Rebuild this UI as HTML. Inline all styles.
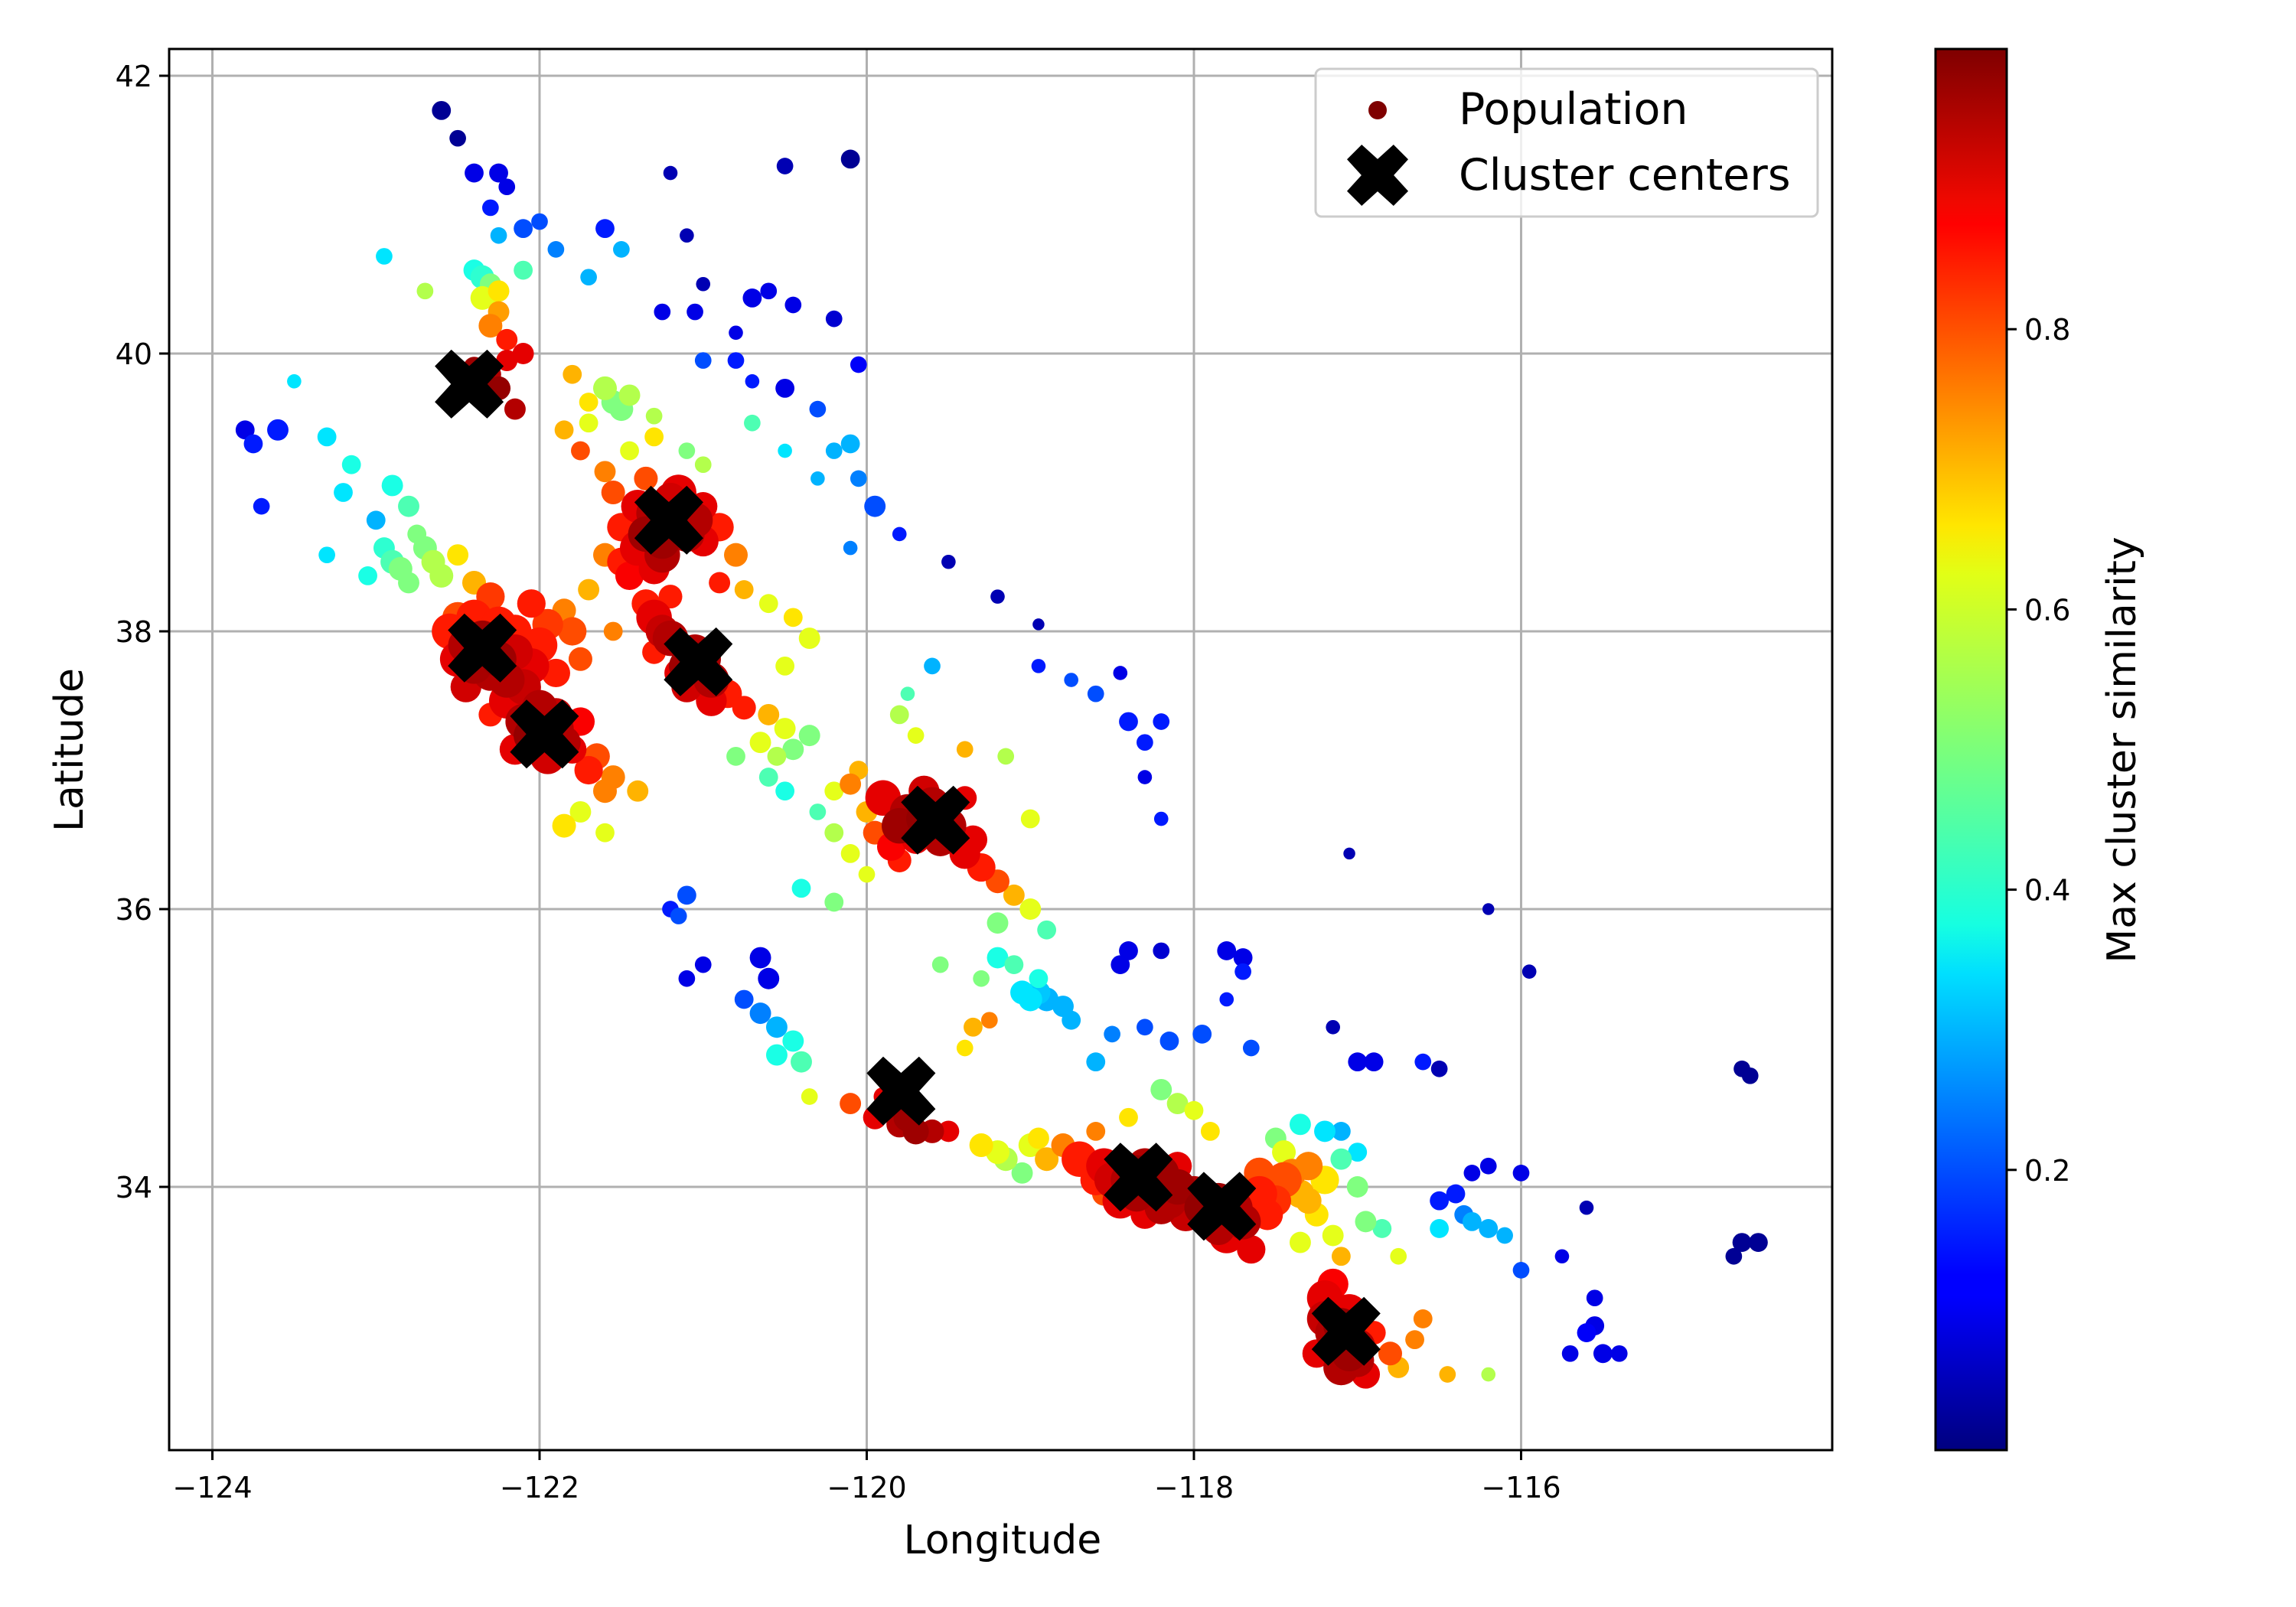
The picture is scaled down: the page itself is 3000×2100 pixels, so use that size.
<!DOCTYPE html>
<html><head><meta charset="utf-8">
<style>
html,body{margin:0;padding:0;background:#fff;}
svg{display:block;font-family:"DejaVu Sans","Liberation Sans",sans-serif;}
</style></head>
<body>
<svg id="chart" width="3000" height="2100" viewBox="0 0 3000 2100" xmlns="http://www.w3.org/2000/svg">
<defs>
<linearGradient id="jet" x1="0" y1="1" x2="0" y2="0">
<stop offset="0" stop-color="#00007f"/><stop offset="0.11" stop-color="#0000ff"/>
<stop offset="0.125" stop-color="#0000ff"/><stop offset="0.34" stop-color="#00dfff"/>
<stop offset="0.375" stop-color="#16ffe1"/><stop offset="0.5" stop-color="#7bff7b"/>
<stop offset="0.625" stop-color="#e1ff16"/><stop offset="0.66" stop-color="#ffe600"/>
<stop offset="0.875" stop-color="#ff0000"/><stop offset="0.89" stop-color="#f10800"/>
<stop offset="1" stop-color="#7f0000"/>
</linearGradient>
<clipPath id="plotclip"><rect x="221" y="64" width="2173" height="1831"/></clipPath>
</defs>
<g id="grid"></g>
<g id="points" clip-path="url(#plotclip)"></g>
<g id="centers"></g>
<rect x="221" y="64" width="2173" height="1831" fill="none" stroke="#000" stroke-width="3"/>
<g id="ticks"></g>
<text x="1310" y="2030" font-size="52" text-anchor="middle">Longitude</text>
<text transform="translate(108,980) rotate(-90)" font-size="52" text-anchor="middle">Latitude</text>
<g>
<rect x="1719" y="90" width="656" height="193" rx="8" fill="#fff" fill-opacity="0.8" stroke="#ccc" stroke-width="3"/>
<circle cx="1800" cy="144" r="12" fill="#7f0000"/>
<text x="1906" y="162" font-size="57">Population</text>
<path id="legendX" fill="#000"/>
<text x="1906" y="248" font-size="57">Cluster centers</text>
</g>
<rect x="2529" y="64" width="93" height="1831" fill="url(#jet)" stroke="#000" stroke-width="3"/>
<g id="cbticks"></g>
<text transform="translate(2790,980) rotate(-90)" font-size="52" text-anchor="middle">Max cluster similarity</text>
</svg>
<script>
const xTicks=[-124,-122,-120,-118,-116];
const yTicks=[34,36,38,40,42];
const cbTicks=[0.2,0.4,0.6,0.8];
const centerLon=[-122.43,-122.35,-121.97,-121.21,-121.03,-119.58,-119.79,-118.34,-117.83,-117.07];
const centerLat=[39.78,37.88,37.26,38.80,37.78,36.64,34.69,34.07,33.86,32.96];
// points: [lon, lat, similarity, radius]
const pts=[
[-122.6,41.75,0.02,8],[-122.5,41.55,0.02,7],[-122.4,41.3,0.1,8],[-122.25,41.3,0.1,8],[-122.2,41.2,0.1,7],[-122.3,41.05,0.15,7],[-122.1,40.9,0.2,8],[-122.25,40.85,0.3,7],[-122.0,40.95,0.2,7],[-121.9,40.75,0.25,7],[-121.6,40.9,0.15,8],[-121.2,41.3,0.05,6],[-121.1,40.85,0.05,6],[-120.5,41.35,0.05,7],[-120.1,41.4,0.02,8],[-121.25,40.3,0.1,7],[-121.05,40.3,0.1,7],[-121.0,40.5,0.05,6],[-120.8,40.15,0.1,6],[-120.7,40.4,0.1,8],[-120.6,40.45,0.1,7],[-120.45,40.35,0.1,7],[-120.2,40.25,0.08,7],[-120.05,39.92,0.12,7],[-121.5,40.75,0.3,7],[-121.7,40.55,0.3,7],[-122.95,40.7,0.35,7],[-122.7,40.45,0.55,7],[-122.3,40.4,0.6,8],[-122.1,40.6,0.45,8],
[-122.35,40.55,0.42,10],[-122.4,40.6,0.4,9],[-122.3,40.5,0.5,9],[-122.35,40.4,0.6,10],[-122.25,40.45,0.65,9],[-122.3,40.2,0.75,10],[-122.25,40.3,0.72,9],[-122.2,40.1,0.85,9],[-122.1,40.0,0.9,9],[-122.4,39.9,0.97,9],[-122.25,39.75,0.98,10],[-122.15,39.6,0.95,9],[-122.55,39.9,0.92,8],[-122.3,39.85,0.95,9],[-122.2,39.95,0.9,9],
[-121.8,39.85,0.7,8],[-121.6,39.75,0.55,10],[-121.5,39.6,0.5,10],[-121.7,39.5,0.6,8],[-121.3,39.55,0.55,7],[-121.45,39.3,0.6,8],[-121.6,39.15,0.75,9],[-121.75,39.3,0.8,8],[-121.85,39.45,0.7,8],[-121.3,39.4,0.65,8],[-121.1,39.3,0.5,7],[-121.0,39.2,0.55,7],[-121.55,39.65,0.5,10],[-121.45,39.7,0.55,9],[-121.7,39.65,0.65,8],
[-121.0,39.95,0.2,7],[-120.8,39.95,0.15,7],[-120.7,39.8,0.15,6],[-120.5,39.75,0.1,8],[-120.3,39.6,0.2,7],[-120.1,39.35,0.3,8],[-120.2,39.3,0.3,7],[-120.05,39.1,0.25,7],[-119.95,38.9,0.2,9],[-119.8,38.7,0.15,6],[-119.5,38.5,0.05,6],[-119.2,38.25,0.05,6],[-118.95,38.05,0.05,5],[-120.7,39.5,0.45,7],[-120.5,39.3,0.35,6],[-120.3,39.1,0.3,6],[-120.1,38.6,0.25,6],
[-123.8,39.45,0.1,8],[-123.75,39.35,0.15,8],[-123.6,39.45,0.15,9],[-123.7,38.9,0.15,7],[-123.5,39.8,0.35,6],[-123.3,39.4,0.35,8],[-123.15,39.2,0.4,8],[-123.2,39.0,0.35,8],[-123.0,38.8,0.3,8],[-123.3,38.55,0.35,7],[-122.9,39.05,0.4,9],[-122.8,38.9,0.45,9],[-122.7,38.6,0.5,10],[-122.9,38.5,0.45,10],[-122.6,38.4,0.55,10],[-122.8,38.35,0.5,9],[-122.5,38.55,0.65,9],[-122.4,38.35,0.7,10],[-122.75,38.7,0.5,8],[-123.05,38.4,0.4,8],[-122.95,38.6,0.42,9],[-122.65,38.5,0.55,10],[-122.85,38.45,0.5,10],
[-122.55,38.0,0.85,15],[-122.4,38.1,0.85,15],[-122.25,38.05,0.85,15],[-122.5,37.8,0.9,15],[-122.3,37.7,0.95,15],[-122.15,37.85,0.92,15],[-122.0,37.9,0.85,15],[-121.9,37.7,0.85,12],[-122.45,37.6,0.92,13],[-122.2,37.5,0.9,15],[-122.1,37.35,0.95,15],[-121.9,37.3,0.95,15],[-121.95,37.1,0.92,15],[-121.8,37.15,0.9,12],[-122.3,37.4,0.85,10],[-121.7,37.0,0.85,12],[-121.6,36.85,0.75,10],[-121.4,36.85,0.7,9],[-121.85,36.6,0.65,10],[-121.75,36.7,0.6,9],[-121.6,36.55,0.6,8],[-121.8,38.0,0.8,12],[-121.75,37.8,0.8,10],[-122.05,38.2,0.85,12],[-122.3,38.25,0.82,12],[-121.85,38.15,0.75,10],[-121.55,38.0,0.75,8],[-121.7,38.3,0.7,9],
[-122.45,37.9,0.95,15],[-122.35,37.95,0.97,15],[-122.25,37.8,0.97,15],[-122.4,37.75,0.96,15],[-122.2,37.65,0.95,15],[-122.1,37.6,0.93,15],[-122.05,37.75,0.9,15],[-122.0,37.45,0.95,15],[-122.05,37.25,0.98,15],[-121.9,37.4,0.93,14],[-121.85,37.2,0.95,14],[-122.15,37.15,0.9,13],[-121.75,37.35,0.88,12],[-122.5,38.1,0.8,13],[-122.15,38.0,0.85,14],[-121.95,38.05,0.82,13],[-121.65,37.1,0.8,11],[-121.55,36.95,0.75,10],
[-121.4,38.6,0.9,15],[-121.25,38.55,0.95,15],[-121.1,38.7,0.95,15],[-121.3,38.85,0.95,15],[-121.15,39.0,0.9,15],[-121.0,38.9,0.9,12],[-120.9,38.75,0.85,12],[-121.5,38.75,0.85,12],[-121.5,38.5,0.85,12],[-121.55,39.0,0.8,10],[-121.35,39.1,0.8,10],[-121.6,38.55,0.75,10],[-120.8,38.55,0.75,10],[-120.9,38.35,0.85,9],[-120.75,38.3,0.7,8],[-120.6,38.2,0.6,8],[-120.45,38.1,0.65,8],[-120.35,37.95,0.6,9],[-120.5,37.75,0.6,8],
[-121.35,38.7,0.97,15],[-121.2,38.8,0.98,15],[-121.05,38.8,0.95,15],[-121.25,38.65,0.97,15],[-121.4,38.9,0.9,14],[-121.2,38.95,0.92,14],[-121.0,38.65,0.9,13],[-121.45,38.4,0.88,12],[-121.3,38.45,0.9,13],
[-121.3,38.1,0.9,15],[-121.2,37.95,0.95,15],[-121.05,37.85,0.95,15],[-120.95,37.65,0.95,15],[-121.15,37.7,0.9,12],[-120.85,37.55,0.85,12],[-120.75,37.45,0.85,10],[-121.3,37.85,0.85,10],[-121.2,38.25,0.85,10],[-120.6,37.4,0.7,9],[-120.5,37.3,0.6,9],[-120.35,37.25,0.5,9],[-120.55,37.1,0.55,8],
[-121.1,37.75,0.97,15],[-121.0,37.8,0.96,15],[-121.25,38.0,0.93,14],[-120.95,37.5,0.9,13],[-121.1,37.6,0.92,13],[-121.35,38.2,0.85,12],
[-120.8,37.1,0.5,8],[-120.6,36.95,0.45,8],[-120.5,36.85,0.4,8],[-120.3,36.7,0.45,7],[-120.2,36.55,0.55,8],[-120.1,36.4,0.6,8],[-120.0,36.25,0.6,7],[-120.2,36.05,0.5,8],[-120.4,36.15,0.4,8],[-120.05,37.0,0.7,8],[-119.8,37.4,0.55,8],[-119.7,37.25,0.6,7],[-119.4,37.15,0.7,7],[-119.15,37.1,0.55,7],[-119.6,37.75,0.3,7],[-119.75,37.55,0.45,6],[-120.45,37.15,0.5,9],[-120.65,37.2,0.6,9],[-120.2,36.85,0.6,8],[-120.0,36.7,0.7,9],[-120.1,36.9,0.75,9],
[-119.9,36.8,0.9,15],[-119.75,36.7,0.95,15],[-119.6,36.75,0.95,15],[-119.5,36.6,0.95,15],[-119.7,36.5,0.9,12],[-119.35,36.5,0.9,12],[-119.3,36.3,0.85,12],[-119.2,36.2,0.8,10],[-119.95,36.55,0.8,10],[-119.8,36.35,0.85,10],[-119.4,36.8,0.9,10],[-119.1,36.1,0.7,9],[-119.0,36.0,0.6,9],[-119.2,35.9,0.5,9],[-118.9,35.85,0.45,8],[-119.0,36.65,0.6,8],
[-119.65,36.65,0.98,15],[-119.8,36.6,0.97,15],[-119.55,36.5,0.95,14],[-119.4,36.4,0.9,13],[-119.65,36.85,0.92,13],[-119.85,36.45,0.88,12],
[-119.2,35.65,0.4,9],[-119.05,35.4,0.35,10],[-118.9,35.35,0.3,10],[-118.8,35.3,0.3,9],[-118.75,35.2,0.3,8],[-119.1,35.6,0.45,8],[-119.35,35.15,0.7,8],[-119.4,35.0,0.65,7],[-119.25,35.2,0.75,7],[-118.95,35.5,0.4,8],[-119.3,35.5,0.5,7],[-119.55,35.6,0.5,7],[-119.0,35.35,0.35,10],[-118.95,35.4,0.32,10],
[-121.1,36.1,0.2,8],[-121.15,35.95,0.2,7],[-121.0,35.6,0.1,7],[-121.1,35.5,0.1,7],[-120.65,35.65,0.1,9],[-120.6,35.5,0.1,9],[-120.75,35.35,0.2,8],[-120.65,35.25,0.25,9],[-120.55,35.15,0.3,9],[-120.45,35.05,0.4,9],[-120.4,34.9,0.45,9],[-120.55,34.95,0.4,9],[-120.35,34.65,0.6,7],[-120.1,34.6,0.8,9],[-119.95,34.5,0.9,10],[-119.8,34.45,0.95,11],[-119.6,34.4,0.95,10],[-119.5,34.4,0.9,9],[-119.9,34.65,0.9,8],[-121.2,36.0,0.15,7],[-119.75,34.5,0.97,12],[-119.7,34.4,0.97,11],
[-119.3,34.3,0.65,10],[-119.15,34.2,0.55,10],[-119.0,34.3,0.6,10],[-118.9,34.2,0.7,10],[-119.05,34.1,0.5,9],[-118.8,34.3,0.75,10],[-119.2,34.25,0.6,10],[-118.95,34.35,0.65,9],
[-118.7,34.2,0.85,15],[-118.55,34.15,0.9,15],[-118.4,34.05,0.95,15],[-118.25,34.0,0.95,15],[-118.3,34.15,0.95,15],[-118.45,33.9,0.9,15],[-118.15,33.9,0.95,15],[-118.0,33.95,0.95,15],[-117.9,33.8,0.95,15],[-117.75,33.85,0.95,15],[-117.8,33.65,0.9,15],[-117.65,33.55,0.9,12],[-118.3,33.8,0.9,12],[-118.55,33.95,0.8,10],[-118.1,34.15,0.9,12],[-117.6,33.95,0.85,15],[-117.45,34.05,0.8,15],[-117.35,33.95,0.7,12],[-117.3,34.15,0.75,12],[-117.2,34.05,0.65,12],[-117.25,33.8,0.65,10],[-117.15,33.65,0.6,9],[-117.35,33.6,0.6,9],[-117.5,34.35,0.5,9],[-117.35,34.45,0.4,9],[-117.2,34.4,0.35,9],[-117.1,34.2,0.45,9],[-117.0,34.0,0.5,9],[-116.95,33.75,0.5,9],[-116.85,33.7,0.45,8],[-118.1,34.6,0.55,9],[-118.2,34.7,0.5,9],[-118.4,34.5,0.65,8],[-118.0,34.55,0.6,8],[-117.9,34.4,0.65,8],[-118.6,34.4,0.75,8],[-117.1,33.5,0.7,8],[-116.75,33.5,0.6,7],[-116.5,33.7,0.35,8],[-116.35,33.8,0.25,8],[-116.2,33.7,0.3,8],
[-118.35,34.1,0.98,15],[-118.2,34.1,0.97,15],[-118.1,34.0,0.97,15],[-118.35,33.95,0.96,15],[-118.5,34.05,0.92,15],[-117.95,33.85,0.98,15],[-117.85,33.9,0.97,15],[-117.7,33.75,0.95,15],[-117.85,33.7,0.95,14],[-118.2,33.85,0.95,14],[-118.05,33.8,0.93,14],[-118.6,34.05,0.85,13],[-117.55,33.8,0.85,13],[-117.5,33.9,0.83,13],[-117.4,34.1,0.75,12],[-117.6,34.1,0.8,13],[-117.3,33.9,0.7,11],[-117.45,34.25,0.6,10],
[-118.4,35.7,0.1,8],[-118.45,35.6,0.1,8],[-118.2,35.7,0.08,7],[-117.8,35.7,0.1,8],[-117.7,35.65,0.1,8],[-117.7,35.55,0.15,7],[-117.8,35.35,0.15,6],[-117.65,35.0,0.2,7],[-118.15,35.05,0.2,8],[-117.95,35.1,0.2,8],[-118.3,35.15,0.2,7],[-118.5,35.1,0.25,7],[-118.6,34.9,0.3,8],[-117.15,35.15,0.05,6],[-117.0,34.9,0.1,8],[-116.9,34.9,0.1,8],[-116.6,34.9,0.15,7],[-116.5,34.85,0.05,7],[-118.45,37.7,0.1,6],[-118.4,37.35,0.15,8],[-118.3,37.2,0.15,7],[-118.2,37.35,0.15,7],[-118.3,36.95,0.1,6],[-118.2,36.65,0.15,6],[-118.6,37.55,0.2,7],[-118.75,37.65,0.2,6],[-118.95,37.75,0.15,6],[-117.05,36.4,0.05,5],[-116.2,36.0,0.05,5],[-115.95,35.55,0.05,6],[-117.1,34.4,0.3,8],[-117.0,34.25,0.35,8],
[-116.5,33.9,0.15,8],[-116.4,33.95,0.15,8],[-116.3,34.1,0.1,7],[-116.2,34.15,0.1,7],[-116.0,34.1,0.1,7],[-116.3,33.75,0.3,8],[-116.1,33.65,0.3,7],[-116.2,33.7,0.28,7],[-116.0,33.4,0.2,7],[-115.75,33.5,0.1,6],[-115.6,33.85,0.05,6],[-115.55,33.2,0.1,7],[-115.5,32.8,0.1,8],[-115.6,32.95,0.12,8],[-115.4,32.8,0.1,7],[-115.7,32.8,0.1,7],[-115.55,33.0,0.1,8],[-114.65,34.85,0.02,7],[-114.6,34.8,0.02,7],[-114.65,33.6,0.02,8],[-114.55,33.6,0.02,8],[-114.7,33.5,0.02,7],
[-117.2,33.2,0.9,15],[-117.05,33.1,0.9,15],[-117.15,32.95,0.95,15],[-117.0,32.85,0.95,15],[-117.1,32.7,0.95,15],[-116.95,32.65,0.9,12],[-117.25,32.8,0.9,12],[-116.9,32.95,0.85,10],[-116.8,32.8,0.8,10],[-116.75,32.7,0.7,9],[-116.65,32.9,0.75,8],[-116.6,33.05,0.75,8],[-116.45,32.65,0.7,7],[-116.2,32.65,0.55,6],
[-117.1,33.0,0.98,15],[-117.05,32.8,0.97,15],[-117.2,33.05,0.93,15],[-117.15,33.3,0.88,13],[-117.0,32.75,0.95,14]
];
const NS='http://www.w3.org/2000/svg';
const PL=221,PR=2394,PT=64,PB=1895;
function xs(lon){return 277.5+(lon+124)*213.75;}
function ys(lat){return 99+(42-lat)*181.5;}
function cy(v){return PB-v*(PB-PT);}
function jet(v){
  function c(x){return Math.max(0,Math.min(1,x));}
  const r=c(1.5-Math.abs(4*v-3)), g=c(1.5-Math.abs(4*v-2)), b=c(1.5-Math.abs(4*v-1));
  return 'rgb('+Math.round(r*255)+','+Math.round(g*255)+','+Math.round(b*255)+')';
}
function mk(tag,attrs,parent){const e=document.createElementNS(NS,tag);for(const k in attrs)e.setAttribute(k,attrs[k]);parent.appendChild(e);return e;}
const grid=document.getElementById('grid'),ticks=document.getElementById('ticks');
xTicks.forEach(t=>{
  const x=xs(t);
  const g=mk('line',{x1:x,x2:x,y1:PT,y2:PB,stroke:'#b0b0b0','stroke-width':3},grid);
  
  
  const tk=mk('line',{x1:x,x2:x,y1:PB,y2:PB+13,stroke:'#000','stroke-width':3},ticks);
  
  
  const tx=mk('text',{x:x,y:PB+62,'font-size':38,'text-anchor':'middle'},ticks);
  tx.textContent='\u2212'+Math.abs(t);
  
  
});
yTicks.forEach(t=>{
  const y=ys(t);
  const g=mk('line',{x1:PL,x2:PR,y1:y,y2:y,stroke:'#b0b0b0','stroke-width':3},grid);
  
  
  const tk=mk('line',{x1:PL-13,x2:PL,y1:y,y2:y,stroke:'#000','stroke-width':3},ticks);
  
  
  const tx=mk('text',{x:PL-22,y:y+14,'font-size':38,'text-anchor':'end'},ticks);
  tx.textContent=String(t);
  
  
});
const cbt=document.getElementById('cbticks');
cbTicks.forEach(v=>{
  const y=cy(v);
  const tk=mk('line',{x1:2622,x2:2635,y1:y,y2:y,stroke:'#000','stroke-width':3},cbt);
  
  
  const tx=mk('text',{x:2645,y:y+14,'font-size':38},cbt);
  tx.textContent=v.toFixed(1);
  
  
});
const pg=document.getElementById('points');
pts.slice().sort((a,b)=>a[2]-b[2]).forEach(p=>{
  const c=mk('circle',{cx:xs(p[0]),cy:ys(p[1]),r:p[3]*1.55,fill:jet(p[2])},pg);
  
  
});
function xPath(cx,cy,s){
  const u=s/2, w=s*0.24;
  const P=[[-u,-u+w],[-u+w,-u],[0,-w*1.1],[u-w,-u],[u,-u+w],[w*1.1,0],[u,u-w],[u-w,u],[0,w*1.1],[-u+w,u],[-u,u-w],[-w*1.1,0]];
  return 'M'+P.map(q=>(cx+q[0]).toFixed(1)+','+(cy+q[1]).toFixed(1)).join(' L')+' Z';
}
const cg=document.getElementById('centers');
centerLon.forEach((lon,i)=>{
  const p=mk('path',{d:xPath(xs(lon),ys(centerLat[i]),90),fill:'#000'},cg);
  
  
});
document.getElementById('legendX').setAttribute('d',xPath(1800,229,80));
</script>
</body></html>
